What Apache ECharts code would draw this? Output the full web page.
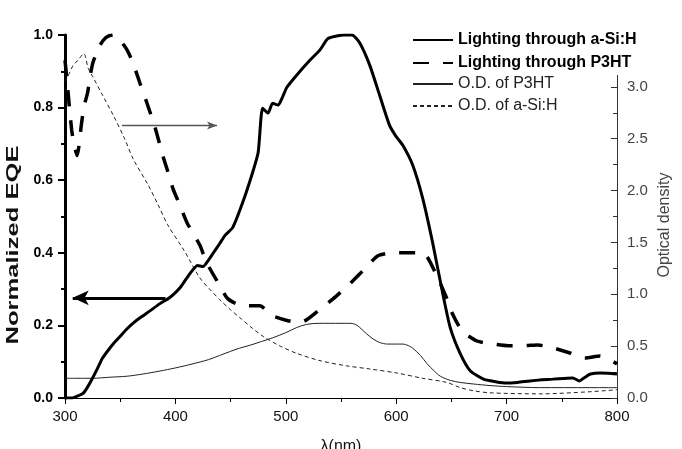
<!DOCTYPE html>
<html>
<head>
<meta charset="utf-8">
<script src="https://cdn.jsdelivr.net/npm/echarts@6/dist/echarts.min.js"></script>
<style>html,body{margin:0;padding:0;background:#fff}#c{width:682px;height:449px}</style>
</head>
<body>
<div id="c"></div>
<script>
// ---- data ----
const seriesNames = ['Lighting through a-Si:H', 'Lighting through P3HT', 'O.D. of P3HT', 'O.D. of a-Si:H'];

// Normalized EQE, lighting through a-Si:H (left axis)
const wlEqeSi = [300,306,311,316,320,325,330,334,340,344,350,356,362,368,377,386,395,404,413,420,425,430,434,440,445,452,461,470,475,479,484,488,493,497,501,510,522,531,538,546,553,560,567,576,585,594,600,606,615,624,633,642,649,658,667,679,690,700,710,721,732,742,752,760,766,770,776,785,792,800];
const eqeSi   = [0,0,0.005,0.012,0.028,0.055,0.085,0.11,0.135,0.15,0.17,0.19,0.207,0.221,0.24,0.26,0.277,0.303,0.342,0.365,0.362,0.38,0.398,0.425,0.448,0.47,0.539,0.622,0.677,0.798,0.785,0.812,0.807,0.829,0.856,0.89,0.931,0.959,0.99,0.997,1.0,1.0,0.978,0.917,0.834,0.751,0.72,0.696,0.641,0.55,0.428,0.29,0.193,0.122,0.075,0.052,0.045,0.041,0.043,0.047,0.05,0.052,0.054,0.055,0.047,0.055,0.066,0.069,0.068,0.066];

// Normalized EQE, lighting through P3HT (left axis)
const wlEqeP3 = [300,302,304,306,308,311,315,317,320.6,322.6,325.4,331.7,337,343.5,349.8,356.2,361.6,367.9,374.3,381.5,388.8,393.3,397.8,404.2,410.5,422.3,426.8,431.3,438.6,447.6,461.2,476.6,487.5,502,514.7,529.2,542.8,558.2,570,583.5,597.1,610.7,624.3,637.9,646,650.5,659.6,673.2,686.8,701.3,714.9,728.4,742,757.4,771,784.6,800];
const eqeP3   = [0.93,0.87,0.8,0.74,0.7,0.668,0.757,0.8,0.843,0.884,0.925,0.972,0.993,1.0,0.986,0.959,0.923,0.867,0.812,0.746,0.666,0.622,0.577,0.53,0.483,0.42,0.384,0.356,0.318,0.273,0.254,0.254,0.227,0.213,0.21,0.24,0.273,0.315,0.351,0.392,0.4,0.4,0.4,0.329,0.273,0.235,0.185,0.157,0.149,0.144,0.144,0.146,0.138,0.124,0.11,0.116,0.094];

// Optical density of P3HT (right axis)
const wlOdP3 = [300,325,340,356,370,386,400,416,430,440,450,458,468,478,488,500,510,519,530,540,550,558,563,567,573,579,585,592,600,606,611,615,622,628,634,640,649,658,670,685,700,730,775,800];
const odP3   = [0.19,0.19,0.2,0.21,0.23,0.26,0.29,0.33,0.37,0.41,0.45,0.48,0.51,0.545,0.58,0.63,0.68,0.71,0.72,0.72,0.72,0.72,0.71,0.68,0.62,0.57,0.535,0.52,0.52,0.52,0.505,0.48,0.41,0.33,0.265,0.21,0.17,0.15,0.135,0.12,0.11,0.1,0.1,0.1];

// Optical density of a-Si:H (right axis)
const wlOdSi = [300,303,307,312,317,321,325,334,344,354,362,375,384,393,408,422,431,440,450,460,470,480,495,510,531,555,576,601,624,646,658,670,685,730,775,800];
const odSi   = [3.05,3.11,3.2,3.26,3.32,3.18,3.1,2.92,2.72,2.5,2.3,2.06,1.87,1.67,1.42,1.16,1.05,0.95,0.85,0.76,0.67,0.59,0.5,0.43,0.36,0.31,0.28,0.24,0.19,0.15,0.1,0.07,0.05,0.04,0.06,0.08];

// annotation arrows (data coordinates)
const arrowToEqe = [[391, 0.276], [307, 0.276]];
const arrowToOd  = [[351.6, 0.751], [437.7, 0.751]];

const FONT = 'Arial, "Liberation Sans", sans-serif';
const zip = (xs, ys) => xs.map((x, i) => [x, ys[i]]);

const chart = echarts.init(document.getElementById('c'), null, {renderer: 'canvas'});
chart.setOption({
  animation: false,
  backgroundColor: '#fff',
  grid: {left: 65, right: 65, top: 35, bottom: 51, containLabel: false, outerBoundsMode: 'none'},
  legend: [
    {
      data: [
        {name: seriesNames[0], textStyle: {fontWeight: 'bold'}},
        {name: seriesNames[1], textStyle: {fontWeight: 'bold'}}
      ],
      orient: 'vertical', left: 407, top: 28, selectedMode: false,
      itemWidth: 40, itemHeight: 14, itemGap: 7, itemTextGap: 5,
      padding: [4, 8, 4, 5], backgroundColor: '#fff',
      itemStyle: {opacity: 0},
      textStyle: {fontSize: 16, fontFamily: FONT, color: '#000', lineHeight: 14}
    },
    {
      data: [seriesNames[2], seriesNames[3]],
      orient: 'vertical', left: 407, top: 72, selectedMode: false,
      itemWidth: 40, itemHeight: 14, itemGap: 6, itemTextGap: 5,
      padding: [4, 5, 4, 5],
      itemStyle: {opacity: 0},
      textStyle: {fontSize: 16, fontFamily: FONT, color: '#222', lineHeight: 14}
    }
  ],
  xAxis: {
    type: 'value', min: 300, max: 800, interval: 100,
    axisLine: {lineStyle: {color: '#000', width: 1.2}},
    axisTick: {show: true, length: 6, lineStyle: {color: '#000', width: 1}},
    minorTick: {show: true, splitNumber: 2, length: 4, lineStyle: {color: '#000', width: 1}},
    axisLabel: {fontSize: 15, color: '#111', margin: 11, fontFamily: FONT},
    splitLine: {show: false},
    name: 'λ(nm)', nameLocation: 'middle', nameGap: 41,
    nameTextStyle: {fontSize: 16, color: '#111', fontFamily: FONT}
  },
  yAxis: [
    {
      type: 'value', min: 0, max: 1, interval: 0.2, position: 'left',
      axisLine: {show: true, lineStyle: {color: '#000', width: 3}},
      axisTick: {show: true, length: 7, lineStyle: {color: '#000', width: 2}},
      minorTick: {show: true, splitNumber: 2, length: 4, lineStyle: {color: '#000', width: 2}},
      axisLabel: {formatter: v => v.toFixed(1), fontWeight: 'bold', fontSize: 14, margin: 12, color: '#000', fontFamily: FONT},
      splitLine: {show: false}
    },
    {
      type: 'value', min: 0, max: 3.5, interval: 0.5, position: 'right',
      axisLine: {show: true, lineStyle: {color: '#333', width: 1}},
      axisTick: {show: true, inside: true, length: 6, lineStyle: {color: '#333', width: 1}},
      minorTick: {show: true, splitNumber: 2, length: 4, lineStyle: {color: '#333', width: 1}},
      axisLabel: {formatter: v => (v > 3.2 ? '' : v.toFixed(1)), fontSize: 15, margin: 10, color: '#444', fontFamily: FONT},
      splitLine: {show: false}
    }
  ],
  graphic: [
    {type: 'text', x: 14, y: 245, rotation: Math.PI / 2, scaleX: 1.6, silent: true,
     style: {text: 'Normalized EQE', font: 'bold 16px ' + FONT, fill: '#111', textAlign: 'center', textVerticalAlign: 'middle'}},
    {type: 'text', x: 665, y: 225, rotation: Math.PI / 2, silent: true,
     style: {text: 'Optical density', font: '16px ' + FONT, fill: '#444', textAlign: 'center', textVerticalAlign: 'middle'}}
  ],
  series: [
    {
      name: seriesNames[0], type: 'line', yAxisIndex: 0, symbol: 'none', smooth: 0.2,
      data: zip(wlEqeSi, eqeSi),
      lineStyle: {color: '#000', width: 3},
      itemStyle: {color: '#000'},
      z: 5,
      markLine: {
        silent: true, symbol: ['none', 'arrow'], symbolSize: [11, 16],
        label: {show: false},
        lineStyle: {color: '#000', width: 3, type: 'solid'},
        data: [[{coord: arrowToEqe[0]}, {coord: arrowToEqe[1]}]]
      }
    },
    {
      name: seriesNames[1], type: 'line', yAxisIndex: 0, symbol: 'none', smooth: 0.2,
      data: zip(wlEqeP3, eqeP3),
      lineStyle: {color: '#000', width: 3.5, type: [16, 14]},
      itemStyle: {color: '#000'},
      z: 4,
      markLine: {
        silent: true, symbol: ['none', 'arrow'], symbolSize: [6, 10],
        label: {show: false},
        lineStyle: {color: '#555', width: 1.3, type: 'solid'},
        data: [[{coord: arrowToOd[0]}, {coord: arrowToOd[1]}]]
      }
    },
    {
      name: seriesNames[2], type: 'line', yAxisIndex: 1, symbol: 'none', smooth: 0.3,
      data: zip(wlOdP3, odP3),
      lineStyle: {color: '#222', width: 1},
      itemStyle: {color: '#222'},
      z: 3
    },
    {
      name: seriesNames[3], type: 'line', yAxisIndex: 1, symbol: 'none', smooth: 0.3,
      data: zip(wlOdSi, odSi),
      lineStyle: {color: '#222', width: 1, type: [4, 3]},
      itemStyle: {color: '#222'},
      z: 3
    }
  ]
});
</script>
</body>
</html>
